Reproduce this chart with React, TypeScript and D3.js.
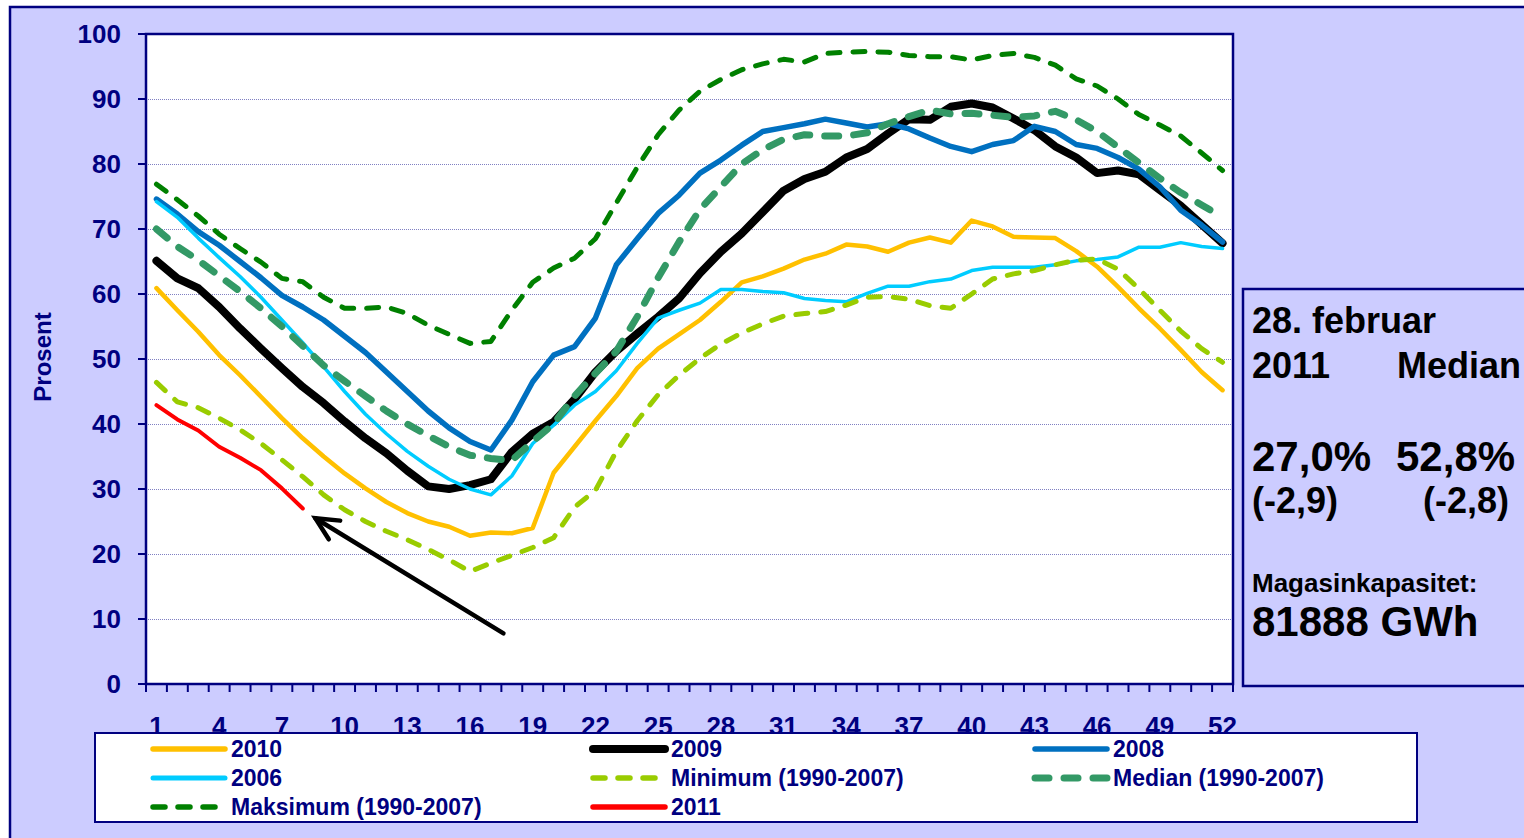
import React from 'react';
import * as d3 from 'd3';

// ---------- data ----------
const weeks: number[] = d3.range(1, 53);
const xTickLabels: number[] = [1, 4, 7, 10, 13, 16, 19, 22, 25, 28, 31, 34, 37, 40, 43, 46, 49, 52];
const yTicks: number[] = [0, 10, 20, 30, 40, 50, 60, 70, 80, 90, 100];

const s2010: number[] = [60.9, 57.5, 54.2, 50.6, 47.5, 44.2, 40.9, 37.8, 35.0, 32.4, 30.1, 28.0, 26.3, 25.0, 24.2, 22.8, 23.3, 23.2, 24.0, 32.5, 36.5, 40.5, 44.3, 48.6, 51.6, 53.8, 56.0, 58.8, 61.8, 62.7, 63.9, 65.3, 66.2, 67.6, 67.3, 66.5, 67.9, 68.7, 67.9, 71.3, 70.4, 68.8, 68.7, 68.6, 66.6, 64.2, 61.1, 57.8, 54.7, 51.4, 48.0, 45.2];
const s2009: number[] = [65.1, 62.4, 60.9, 58.0, 54.7, 51.6, 48.6, 45.7, 43.2, 40.4, 37.8, 35.5, 32.8, 30.4, 30.0, 30.6, 31.5, 35.7, 38.5, 40.3, 43.8, 48.0, 51.2, 53.9, 56.5, 59.3, 63.2, 66.5, 69.3, 72.6, 75.9, 77.7, 78.8, 81.0, 82.3, 84.7, 86.9, 86.8, 88.8, 89.3, 88.7, 87.0, 85.2, 82.7, 81.0, 78.6, 79.0, 78.4, 76.0, 73.6, 70.7, 67.8];
const s2008: number[] = [74.6, 72.3, 69.6, 67.5, 65.0, 62.5, 59.8, 58.0, 56.0, 53.5, 51.0, 48.0, 45.0, 42.0, 39.4, 37.3, 36.0, 40.6, 46.5, 50.6, 51.9, 56.3, 64.5, 68.5, 72.4, 75.2, 78.6, 80.6, 82.9, 85.0, 85.6, 86.2, 86.9, 86.3, 85.7, 86.2, 85.4, 84.0, 82.7, 81.9, 83.0, 83.6, 85.8, 85.0, 83.0, 82.4, 81.0, 79.2, 76.5, 72.9, 70.6, 68.0];
const s2006: number[] = [74.2, 71.8, 68.6, 65.6, 62.7, 59.5, 56.0, 52.5, 48.8, 45.0, 41.5, 38.5, 35.8, 33.5, 31.5, 30.0, 29.1, 32.0, 37.0, 39.8, 42.9, 45.0, 48.2, 52.4, 56.3, 57.5, 58.6, 60.7, 60.7, 60.4, 60.2, 59.3, 59.0, 58.8, 60.1, 61.2, 61.2, 61.9, 62.3, 63.6, 64.1, 64.1, 64.1, 64.5, 65.1, 65.3, 65.7, 67.2, 67.2, 67.9, 67.3, 67.0];
const sMin: number[] = [46.4, 43.4, 42.5, 40.9, 39.1, 37.0, 34.5, 31.9, 29.1, 26.8, 25.0, 23.5, 22.2, 20.7, 19.1, 17.3, 18.6, 19.8, 21.0, 22.5, 27.2, 29.8, 35.8, 40.5, 44.5, 47.5, 50.1, 52.3, 54.0, 55.4, 56.6, 57.0, 57.3, 58.3, 59.5, 59.6, 59.2, 58.2, 57.8, 60.0, 62.3, 63.1, 63.6, 64.5, 65.2, 65.4, 63.8, 60.8, 57.5, 54.3, 51.6, 49.5];
const sMedian: number[] = [70.0, 67.3, 65.2, 62.8, 60.4, 57.8, 55.0, 52.0, 49.0, 46.6, 44.3, 42.0, 40.0, 38.2, 36.5, 35.2, 34.7, 34.4, 37.3, 40.0, 44.3, 47.8, 51.2, 56.5, 62.5, 68.0, 73.0, 76.5, 80.0, 82.2, 83.8, 84.5, 84.3, 84.3, 84.8, 86.2, 87.3, 88.3, 87.7, 87.8, 87.5, 87.2, 87.4, 88.1, 86.8, 85.0, 82.6, 80.2, 77.8, 75.6, 73.7, 71.8];
const sMax: number[] = [76.9, 74.5, 72.0, 69.2, 67.0, 64.9, 62.4, 61.9, 59.5, 57.8, 57.8, 58.0, 57.0, 55.2, 53.8, 52.4, 52.7, 57.5, 61.8, 64.0, 65.5, 68.5, 74.0, 79.5, 84.5, 88.3, 91.2, 93.0, 94.5, 95.4, 96.1, 95.7, 97.0, 97.2, 97.3, 97.2, 96.7, 96.5, 96.5, 96.0, 96.7, 97.0, 96.4, 95.2, 93.1, 92.0, 90.0, 87.6, 86.0, 84.3, 81.7, 79.0];
const s2011: number[] = [42.9, 40.7, 39.0, 36.5, 34.8, 32.9, 30.1, 27.0];

const seriesNames: string[] = ['2010', '2009', '2008', '2006', 'Minimum (1990-2007)', 'Median (1990-2007)', 'Maksimum (1990-2007)', '2011'];
const seriesValues: number[][] = [s2010, s2009, s2008, s2006, sMin, sMedian, sMax, s2011];

// annotation arrow in data space: [week, percent]
const arrowFrom: [number, number] = [17.6, 7.8];
const arrowTo: [number, number] = [8.6, 25.5];

const infoTitle1 = '28. februar';
const infoYear = '2011';
const infoMedianLabel = 'Median';
const infoValue = '27,0%';
const infoMedianValue = '52,8%';
const infoDiff = '(-2,9)';
const infoMedianDiff = '(-2,8)';
const infoCapLabel = 'Magasinkapasitet:';
const infoCap = '81888 GWh';
const yTitle = 'Prosent';

// ---------- styles ----------
const seriesStyles = [
  { color: '#FFC000', width: 4.5, dash: '' },
  { color: '#000000', width: 8, dash: '' },
  { color: '#0070C0', width: 5.5, dash: '' },
  { color: '#00CCFF', width: 3.5, dash: '' },
  { color: '#99CC00', width: 5, dash: '12,13' },
  { color: '#339966', width: 7, dash: '14,15' },
  { color: '#008000', width: 5, dash: '12,13' },
  { color: '#FF0000', width: 4, dash: '' },
];

const NAVY = '#000080';
const LAV = '#CCCCFF';
const FONT = '"Liberation Sans", Arial, Helvetica, sans-serif';

export default function App() {
  const W = 1524;
  const H = 838;
  const plot = { left: 146, right: 1233, top: 34, bottom: 684 };

  const x = d3.scaleLinear().domain([0.5, 52.5]).range([plot.left, plot.right]);
  const y = d3.scaleLinear().domain([0, 100]).range([plot.bottom, plot.top]);

  const line = d3
    .line<number>()
    .x((_d, i) => x(weeks[i]))
    .y((d) => y(d));

  const tickPositions = d3.range(0, 53).map((k) => x(k + 0.5));

  // arrow geometry
  const ax0 = x(arrowFrom[0]);
  const ay0 = y(arrowFrom[1]);
  const ax1 = x(arrowTo[0]);
  const ay1 = y(arrowTo[1]);
  const ang = Math.atan2(ay0 - ay1, ax0 - ax1);
  const headLen = 25;
  const headSpread = (26 * Math.PI) / 180;
  const h1 = [ax1 + headLen * Math.cos(ang - headSpread), ay1 + headLen * Math.sin(ang - headSpread)];
  const h2 = [ax1 + headLen * Math.cos(ang + headSpread), ay1 + headLen * Math.sin(ang + headSpread)];

  // legend layout
  const legend = { left: 95, top: 733, right: 1417, bottom: 822 };
  const legendCols = [153, 593, 1035];
  const legendRows = [749, 778, 807];
  const sampleLen = 72;

  return (
    <svg
      width={W}
      height={H}
      style={{ position: 'absolute', left: 0, top: 0, display: 'block', background: '#FFFFFF' }}
      fontFamily={FONT}
    >
      {/* outer chart frame */}
      <rect x={10} y={7} width={W + 20} height={H + 20} fill={LAV} stroke={NAVY} strokeWidth={2.5} />

      {/* plot area */}
      <rect x={plot.left} y={plot.top} width={plot.right - plot.left} height={plot.bottom - plot.top} fill="#FFFFFF" />

      {/* gridlines */}
      {yTicks
        .filter((t) => t > 0 && t < 100)
        .map((t) => (
          <line
            key={'g' + t}
            x1={plot.left}
            x2={plot.right}
            y1={Math.round(y(t)) + 0.5}
            y2={Math.round(y(t)) + 0.5}
            stroke="#2B2B99"
            strokeOpacity={0.6}
            strokeWidth={1}
            strokeDasharray="1,1"
          />
        ))}

      <defs>
        <clipPath id="plotclip">
          <rect x={plot.left} y={plot.top - 4} width={plot.right - plot.left} height={plot.bottom - plot.top + 4} />
        </clipPath>
      </defs>

      {/* series */}
      <g clipPath="url(#plotclip)">
        {seriesValues.map((vals, i) => {
          const st = seriesStyles[i];
          return (
            <path
              key={seriesNames[i]}
              d={line(vals) || ''}
              fill="none"
              stroke={st.color}
              strokeWidth={st.width}
              strokeDasharray={st.dash || undefined}
              strokeLinecap="round"
              strokeLinejoin="round"
            />
          );
        })}
      </g>

      {/* arrow */}
      <g stroke="#000000" strokeWidth={4.5} strokeLinecap="round" fill="none">
        <line x1={ax0} y1={ay0} x2={ax1} y2={ay1} />
        <polyline points={`${h1[0]},${h1[1]} ${ax1},${ay1} ${h2[0]},${h2[1]}`} strokeLinejoin="miter" />
      </g>

      {/* plot border */}
      <rect
        x={plot.left}
        y={plot.top}
        width={plot.right - plot.left}
        height={plot.bottom - plot.top}
        fill="none"
        stroke={NAVY}
        strokeWidth={2.5}
      />

      {/* y axis ticks & labels */}
      {yTicks.map((t) => (
        <g key={'y' + t}>
          <line x1={plot.left - 8} x2={plot.left} y1={y(t)} y2={y(t)} stroke={NAVY} strokeWidth={2} />
          <text x={121} y={y(t) + 9} textAnchor="end" fontSize={26} fontWeight="bold" fill={NAVY}>
            {t}
          </text>
        </g>
      ))}

      {/* x axis ticks */}
      {tickPositions.map((px, k) => (
        <line key={'xt' + k} x1={px} x2={px} y1={plot.bottom} y2={plot.bottom + 8} stroke={NAVY} strokeWidth={2} />
      ))}
      {xTickLabels.map((w) => (
        <text key={'xl' + w} x={x(w)} y={735} textAnchor="middle" fontSize={26} fontWeight="bold" fill={NAVY}>
          {w}
        </text>
      ))}

      {/* y title */}
      <text transform="translate(51,357) rotate(-90)" textAnchor="middle" fontSize={24} fontWeight="bold" fill={NAVY}>
        {yTitle}
      </text>

      {/* legend */}
      <rect
        x={legend.left}
        y={legend.top}
        width={legend.right - legend.left}
        height={legend.bottom - legend.top}
        fill="#FFFFFF"
        stroke={NAVY}
        strokeWidth={2}
      />
      {seriesNames.map((name, i) => {
        const col = i % 3;
        const row = Math.floor(i / 3);
        const lx = legendCols[col];
        const ly = legendRows[row];
        const st = seriesStyles[i];
        return (
          <g key={'lg' + name}>
            <line
              x1={lx}
              x2={lx + sampleLen}
              y1={ly}
              y2={ly}
              stroke={st.color}
              strokeWidth={st.width === 3.5 ? 5 : st.width < 5.5 ? 5.5 : st.width}
              strokeDasharray={st.dash || undefined}
              strokeLinecap="round"
            />
            <text x={lx + sampleLen + 6} y={ly + 8} fontSize={23} fontWeight="bold" fill={NAVY}>
              {name}
            </text>
          </g>
        );
      })}

      {/* info box */}
      <rect x={1243} y={289} width={320} height={397} fill={LAV} stroke={NAVY} strokeWidth={2.5} />
      <g fontWeight="bold" fill="#000000">
        <text x={1252} y={333} fontSize={36}>{infoTitle1}</text>
        <text x={1252} y={378} fontSize={36}>{infoYear}</text>
        <text x={1397} y={378} fontSize={36}>{infoMedianLabel}</text>
        <text x={1252} y={471} fontSize={42}>{infoValue}</text>
        <text x={1396} y={471} fontSize={42}>{infoMedianValue}</text>
        <text x={1252} y={513} fontSize={36}>{infoDiff}</text>
        <text x={1423} y={513} fontSize={36}>{infoMedianDiff}</text>
        <text x={1252} y={592} fontSize={26}>{infoCapLabel}</text>
        <text x={1252} y={636} fontSize={42}>{infoCap}</text>
      </g>
    </svg>
  );
}
